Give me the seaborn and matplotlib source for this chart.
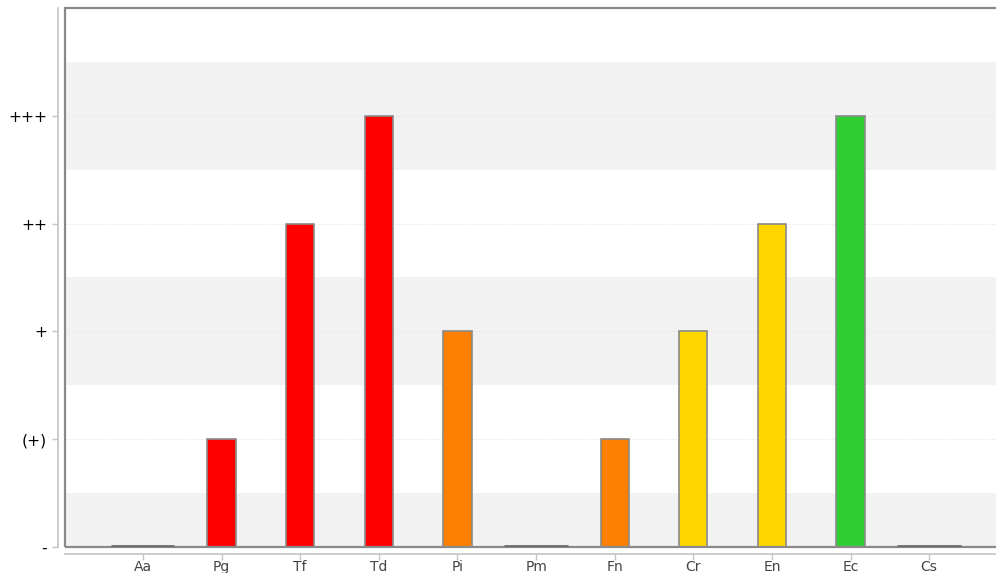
import matplotlib
matplotlib.use("Agg")
import matplotlib.pyplot as plt
import matplotlib.patches as mpatches
import pandas as pd
import seaborn as sns

# Data
species = ["Aa", "Pg", "Tf", "Td", "Pi", "Pm", "Fn", "Cr", "En", "Ec", "Cs"]
levels = [0, 1, 3, 4, 2, 0, 1, 2, 3, 4, 0]
bar_colors = ["#c8c8c8", "#ff0000", "#ff0000", "#ff0000", "#ff8000", "#c8c8c8",
              "#ff8000", "#ffd700", "#ffd700", "#32cd32", "#c8c8c8"]
level_labels = ["-", "(+)", "+", "++", "+++"]

df = pd.DataFrame({"species": species, "level": levels})

sns.set_style("white")
plt.rcParams["font.family"] = ["DejaVu Sans"]

fig = plt.figure(figsize=(9.96, 5.73), dpi=100)
ax = fig.add_axes([65 / 996, 1 - 547 / 573, 931 / 996, 539 / 573])

# alternating background bands
for lo in [0, 1.5, 3.5]:
    hi = lo + (0.5 if lo == 0 else 1.0)
    ax.axhspan(lo, hi, color="#f2f2f2", zorder=0, lw=0)
for y in range(1, 5):
    ax.axhline(y, color="#e4e4e4", lw=0.6, ls=(0, (2, 2)), zorder=0.5)

sns.barplot(data=df, x="species", y="level", hue="species", palette=bar_colors,
            legend=False, width=0.36, edgecolor="#8a8a8a", linewidth=1.2,
            saturation=1, ax=ax, zorder=2)

ax.set_ylim(0, 5)
ax.set_xlim(-0.992, 10.85)
ax.set_yticks(range(5))
ax.set_yticklabels(level_labels)
ax.set_xticks(range(len(species)))
ax.set_xticklabels(species)
ax.set_xlabel("")
ax.set_ylabel("")

# zero-level bars show as a thin dark line on the baseline
for i, v in enumerate(levels):
    if v == 0:
        ax.plot([i - 0.4, i + 0.4], [0.008, 0.008], color="#666666", lw=1.2,
                zorder=4, clip_on=False)

# plot border
border = mpatches.Rectangle((0, 0), 1.2, 1, transform=ax.transAxes, fill=False,
                            edgecolor="#8a8a8a", lw=1.6, clip_on=False, zorder=3)
ax.add_patch(border)

# offset axis lines
for side in ["top", "right"]:
    ax.spines[side].set_visible(False)
for side in ["left", "bottom"]:
    ax.spines[side].set_position(("outward", 5))
    ax.spines[side].set_color("#c4c4c4")
    ax.spines[side].set_linewidth(1.2)
ax.tick_params(axis="y", length=4, width=1, color="#c4c4c4", pad=4, left=True,
               labelsize=11.2, labelcolor="#000000")
ax.tick_params(axis="x", length=4, width=1, color="#c4c4c4", pad=0.5, bottom=True,
               labelsize=10, labelcolor="#444444")

fig.savefig("out.png", dpi=100)
